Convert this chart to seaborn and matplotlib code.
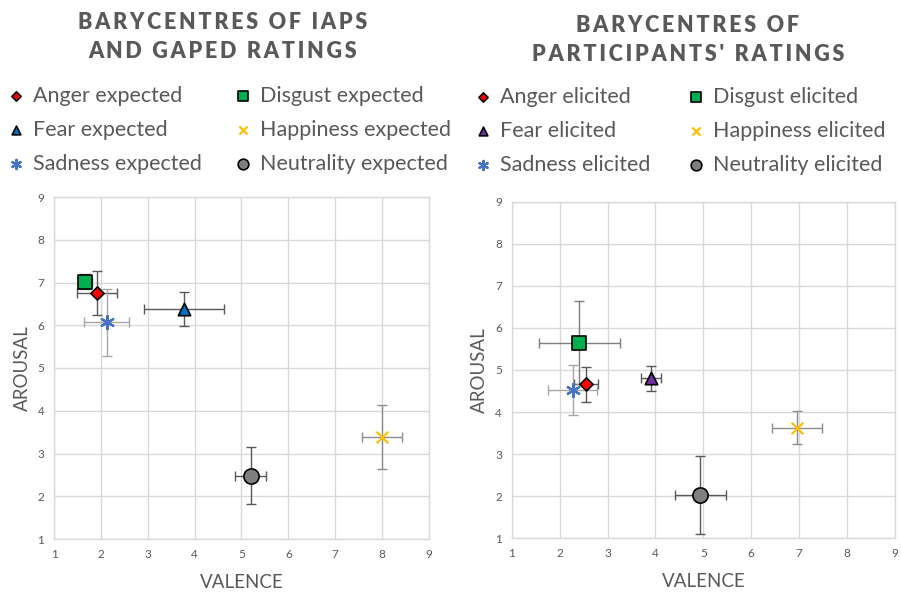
import matplotlib
matplotlib.use("Agg")
import matplotlib.pyplot as plt
import seaborn as sns
import pandas as pd

emotions = ["Anger", "Disgust", "Fear", "Happiness", "Sadness", "Neutrality"]

exp_valence = [1.92, 1.66, 3.77, 8.00, 2.12, 5.20]
exp_arousal = [6.75, 7.02, 6.38, 3.38, 6.07, 2.48]
exp_val_err = [0.43, 0.14, 0.86, 0.42, 0.48, 0.33]
exp_aro_err = [0.51, 0.18, 0.39, 0.75, 0.78, 0.67]

eli_valence = [2.55, 2.41, 3.90, 6.96, 2.27, 4.94]
eli_arousal = [4.66, 5.65, 4.80, 3.63, 4.52, 2.03]
eli_val_err = [0.26, 0.85, 0.21, 0.52, 0.52, 0.53]
eli_aro_err = [0.42, 0.99, 0.30, 0.40, 0.59, 0.93]

ticks = [1, 2, 3, 4, 5, 6, 7, 8, 9]
titles = ["BARYCENTRES OF IAPS\nAND GAPED RATINGS", "BARYCENTRES OF\nPARTICIPANTS' RATINGS"]
suffixes = ["expected", "elicited"]

sns.set_theme(style="white")
plt.rcParams["font.family"] = ["Lato", "DejaVu Sans"]

TXT = "#595959"
GRID = "#D9D9D9"

face_exp = {"Anger": "#FF0000", "Disgust": "#00B050", "Fear": "#0070C0",
            "Happiness": "#FFC000", "Sadness": "#4472C4", "Neutrality": "#7F7F7F"}
face_eli = dict(face_exp, Fear="#7030A0")
markers = {"Anger": "D", "Disgust": "s", "Fear": "^", "Happiness": "x",
           "Sadness": (6, 2, 0), "Neutrality": "o"}
sizes = {"Anger": 45, "Disgust": 110, "Fear": 80, "Happiness": 70,
         "Sadness": 90, "Neutrality": 120}
err_col = {"Anger": "#595959", "Disgust": "#7F7F7F", "Fear": "#595959",
           "Happiness": "#8C8C8C", "Sadness": "#A6A6A6", "Neutrality": "#595959"}


def spaced(s):
    # letter-spaced title text (thin spaces between letters)
    return "\n".join("\u2009".join(list(line)) for line in s.split("\n"))


fig = plt.figure(figsize=(9.01, 5.95), dpi=100)
W, H = 901, 595
ax1 = fig.add_axes([54 / W, (H - 539) / H, 375 / W, 342 / H])
ax2 = fig.add_axes([511.7 / W, (H - 538.3) / H, 383.3 / W, 336.6 / H])

sets = [
    (ax1, exp_valence, exp_arousal, exp_val_err, exp_aro_err, face_exp),
    (ax2, eli_valence, eli_arousal, eli_val_err, eli_aro_err, face_eli),
]

for i, (ax, vx, vy, ex, ey, faces) in enumerate(sets):
    df = pd.DataFrame({"emotion": emotions, "valence": vx, "arousal": vy,
                       "ex": ex, "ey": ey})
    for _, r in df.iterrows():
        e = r["emotion"]
        ax.errorbar(r["valence"], r["arousal"], xerr=r["ex"], yerr=r["ey"],
                    fmt="none", ecolor=err_col[e], elinewidth=1.0,
                    capsize=3.5, capthick=1.0, zorder=2)
        sub = df[df["emotion"] == e]
        filled = markers[e] != "x" and not isinstance(markers[e], tuple)
        kw = dict(edgecolor="black", linewidth=1.2) if filled else dict(linewidth=1.6)
        sns.scatterplot(data=sub, x="valence", y="arousal", ax=ax,
                        marker=markers[e], color=faces[e], s=sizes[e],
                        label=f"{e} {suffixes[i]}", zorder=3, legend=False, **kw)
    ax.set_xlim(1, 9)
    ax.set_ylim(1, 9)
    ax.set_xticks(ticks)
    ax.set_yticks(ticks)
    ax.grid(True, color=GRID, linewidth=1.0)
    ax.set_axisbelow(True)
    for sp in ax.spines.values():
        sp.set_color(GRID)
        sp.set_linewidth(1.0)
    ax.tick_params(axis="both", length=0, labelsize=8.5, labelcolor=TXT, pad=7)
    ax.set_xlabel("VALENCE", fontsize=13.5, color=TXT, labelpad=10)
    ax.set_ylabel("AROUSAL", fontsize=13.5, color=TXT, labelpad=5)

    # legend, row-major order
    h, l = ax.get_legend_handles_labels()
    order = [0, 2, 4, 1, 3, 5]
    h = [h[k] for k in order]
    l = [l[k] for k in order]
    anchor = (7 / W, 1 - 86 / H) if i == 0 else (474.4 / W, 1 - 87 / H)
    colsp = 1.53 if i == 0 else 1.72
    leg = ax.legend(h, l, ncol=2, loc="upper left", bbox_to_anchor=anchor,
                    bbox_transform=fig.transFigure, frameon=False, fontsize=15.5,
                    handletextpad=0.4, columnspacing=colsp, labelspacing=0.65,
                    borderaxespad=0, borderpad=0, handlelength=0.8,
                    markerscale=0.7)
    for t in leg.get_texts():
        t.set_color(TXT)

fig.text(223 / W, 1 - 37 / H, spaced(titles[0]), ha="center", va="center",
         fontsize=15.5, fontweight="heavy", color=TXT, linespacing=1.45)
fig.text(688 / W, 1 - 40 / H, spaced(titles[1]), ha="center", va="center",
         fontsize=15.5, fontweight="heavy", color=TXT, linespacing=1.45)

fig.savefig("out.png", dpi=100)
